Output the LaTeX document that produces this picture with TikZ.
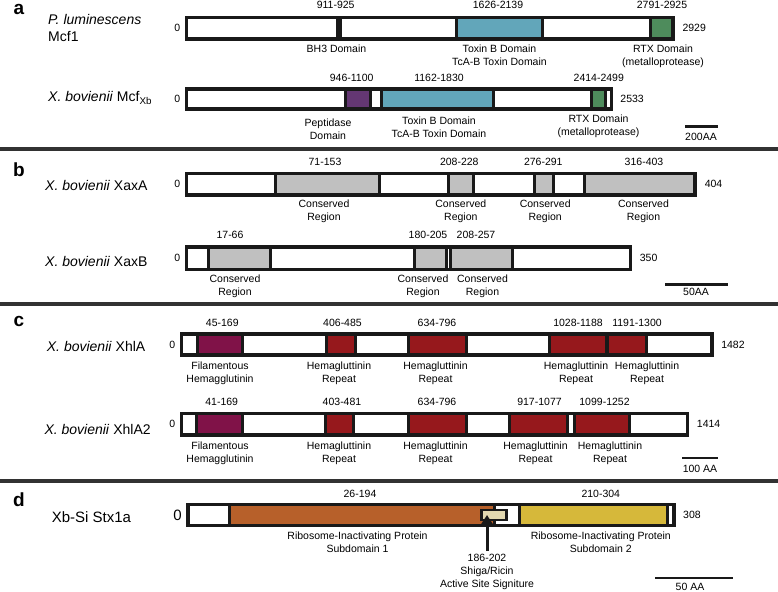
\documentclass[tikz,border=0pt]{standalone}
\usepackage{fontspec}
\setmainfont{Liberation Sans}
\usetikzlibrary{arrows.meta}
\usepackage{xcolor}

\definecolor{barline}{RGB}{25,25,25}
\definecolor{rulegray}{RGB}{50,50,50}
\definecolor{toxinblue}{RGB}{98,166,186}
\definecolor{rtxgreen}{RGB}{78,140,92}
\definecolor{peptpurple}{RGB}{100,55,115}
\definecolor{consgray}{RGB}{192,192,192}
\definecolor{filmagenta}{RGB}{128,18,72}
\definecolor{hemred}{RGB}{150,24,28}
\definecolor{riboorange}{RGB}{183,96,42}
\definecolor{riboyellow}{RGB}{214,184,58}
\definecolor{sitebeige}{RGB}{226,216,176}

\tikzset{
	panelletter/.style={inner sep=0, font=\bfseries\fontsize{19}{19}\selectfont},
	species/.style={anchor=base west, inner sep=0, font=\fontsize{14}{17}\selectfont},
	small/.style={inner sep=0, font=\fontsize{10.5}{13}\selectfont},
	zero/.style={small},
	domname/.style={small, align=center, anchor=north},
	protein/.style={draw=barline, line width=3.5pt, fill=white},
	dombox/.style={draw=barline, line width=3pt},
	divider/.style={draw=rulegray, line width=3.5pt},
	scalebar/.style={draw=barline, line width=2.5pt},
	sitebox/.style={draw=barline, fill=sitebeige, line width=2.5pt, inner sep=0, minimum width=25.3pt, minimum height=10pt},
	sitearrow/.style={draw=barline, line width=3pt, -{Triangle[length=9pt,width=11pt]}},
}

\begin{document}
\begin{tikzpicture}[x=1pt,y=-1pt]
	\useasboundingbox (0,0) rectangle (778,591);
	% #1 name, #2 left, #3 px per AA, #4 top, #5 bottom, #6 length, #7 y of ranges, #8 domains
	\newcommand{\drawprotein}[8]{
		\draw[protein] (#2,#4) rectangle ({#2+#3*#6},#5);
		\foreach \s/\e/\col/\rx/\nx/\ny/\nm [count=\i] in {#8}
		{
			\draw[dombox, fill=\col] ({#2+#3*\s},#4) rectangle ({#2+#3*\e},#5);
			\node[small] (#1-r\i) at (\rx,#7) {\s-\e};
			\node[domname] (#1-n\i) at (\nx,\ny) {\nm};
		}
		\draw[protein, fill=none] (#2,#4) rectangle ({#2+#3*#6},#5);
		\node[zero, anchor=east] (#1-0) at ({#2-6},{(#4+#5)/2}) {0};
		\node[small, anchor=west] (#1-len) at ({#2+#3*#6+9},{(#4+#5)/2}) {#6};
	}
	% a
	\node[panelletter] (pa) at (19,9) {a};
	\node[species] (mcfa) at (48,25) {\textit{P. luminescens}};
	\node[species] (mcfb) at (48,42) {Mcf1};
	\drawprotein{mcf}{186.5}{0.1662}{17.5}{39.2}{2929}{4.7}{
		911/925/barline/335.7/336.5/44.5/{BH3 Domain},
		1626/2139/toxinblue/498/499.5/44.5/{Toxin B Domain\\TcA-B Toxin Domain},
		2791/2925/rtxgreen/662/663/44.5/{RTX Domain\\(metalloprotease)}}
	\node[species] (mcfxb) at (48,102) {\textit{X. bovienii} Mcf\textsubscript{Xb}};
	\drawprotein{xb}{186.5}{0.1677}{89}{109}{2533}{78.3}{
		946/1100/peptpurple/351.7/328/118.3/{Peptidase\\Domain},
		1162/1830/toxinblue/439/439/116.7/{Toxin B Domain\\TcA-B Toxin Domain},
		2414/2499/rtxgreen/598.8/598.5/115/{RTX Domain\\(metalloprotease)}}
	\draw[scalebar] (685,126.5) -- (718,126.5);
	\node[small] (sba) at (701,137) {200AA};
	\draw[divider] (0,149) -- (778,149);
	% b
	\node[panelletter] (pb) at (19,170) {b};
	\node[species] (xaxa) at (45,190.7) {\textit{X. bovienii} XaxA};
	\drawprotein{xa}{186.5}{1.260}{173.5}{195}{404}{161.5}{
		71/153/consgray/325/324/200/{Conserved\\Region},
		208/228/consgray/459.3/460.8/200/{Conserved\\Region},
		276/291/consgray/543.3/545.2/200/{Conserved\\Region},
		316/403/consgray/644/643.5/200/{Conserved\\Region}}
	\node[species] (xaxb) at (45,266.7) {\textit{X. bovienii} XaxB};
	\drawprotein{xbb}{186.5}{1.269}{247}{269.5}{350}{234.5}{
		17/66/consgray/230/235/275/{Conserved\\Region},
		180/205/consgray/428/423/275/{Conserved\\Region},
		208/257/consgray/476/482.5/275/{Conserved\\Region}}
	\draw[scalebar] (665,284.3) -- (728,284.3);
	\node[small] (sbb) at (696,292) {50AA};
	\draw[divider] (0,304) -- (778,304);
	% c
	\node[panelletter] (pc) at (19,321.5) {c};
	\node[species] (xhla) at (46.7,351) {\textit{X. bovienii} XhlA};
	\drawprotein{ha}{181.5}{0.358}{334}{355}{1482}{322.7}{
		45/169/filmagenta/222.3/220/361.7/{Filamentous\\Hemagglutinin},
		406/485/hemred/342.5/339/361.7/{Hemagluttinin\\Repeat},
		634/796/hemred/437/435.5/361.7/{Hemagluttinin\\Repeat},
		1028/1188/hemred/578/576/361.7/{Hemagluttinin\\Repeat},
		1191/1300/hemred/637/647/361.7/{Hemagluttinin\\Repeat}}
	\node[species] (xhlb) at (44.3,434) {\textit{X. bovienii} XhlA2};
	\drawprotein{hb}{181.5}{0.358}{413.5}{435}{1414}{402}{
		41/169/filmagenta/221.7/220/441.7/{Filamentous\\Hemagglutinin},
		403/481/hemred/342/339/441.7/{Hemagluttinin\\Repeat},
		634/796/hemred/437/435.5/441.7/{Hemagluttinin\\Repeat},
		917/1077/hemred/539.5/535.5/441.7/{Hemagluttinin\\Repeat},
		1099/1252/hemred/604.5/610/441.7/{Hemagluttinin\\Repeat}}
	\draw[scalebar] (682,458) -- (718,458);
	\node[small] (sbc) at (700,469) {100 AA};
	\draw[divider] (0,481) -- (778,481);
	% d
	\node[panelletter] (pd) at (19,500) {d};
	\node[species, font=\fontsize{15}{15}\selectfont] (stx) at (51.7,522.7) {Xb-Si Stx1a};
	\begin{scope}[zero/.style={inner sep=0, font=\fontsize{15}{15}\selectfont}]
	\drawprotein{st}{188}{1.578}{504.5}{525.5}{308}{493.5}{
		26/194/riboorange/360/357.5/531.7/{Ribosome-Inactivating Protein\\Subdomain 1},
		210/304/riboyellow/600.8/600.8/531.7/{Ribosome-Inactivating Protein\\Subdomain 2}}
	\end{scope}
	\node[sitebox] (site) at (494,515) {};
	\coordinate (sitetail) at (487,551);
	\draw[sitearrow] (sitetail) -- (sitetail |- site.center);
	\node[domname] (sitelbl) at (487,554) {186-202\\Shiga/Ricin\\Active Site Signiture};
	\draw[scalebar] (655,578) -- (733,578);
	\node[small] (sbd) at (690,586.5) {50 AA};
\end{tikzpicture}
\end{document}
